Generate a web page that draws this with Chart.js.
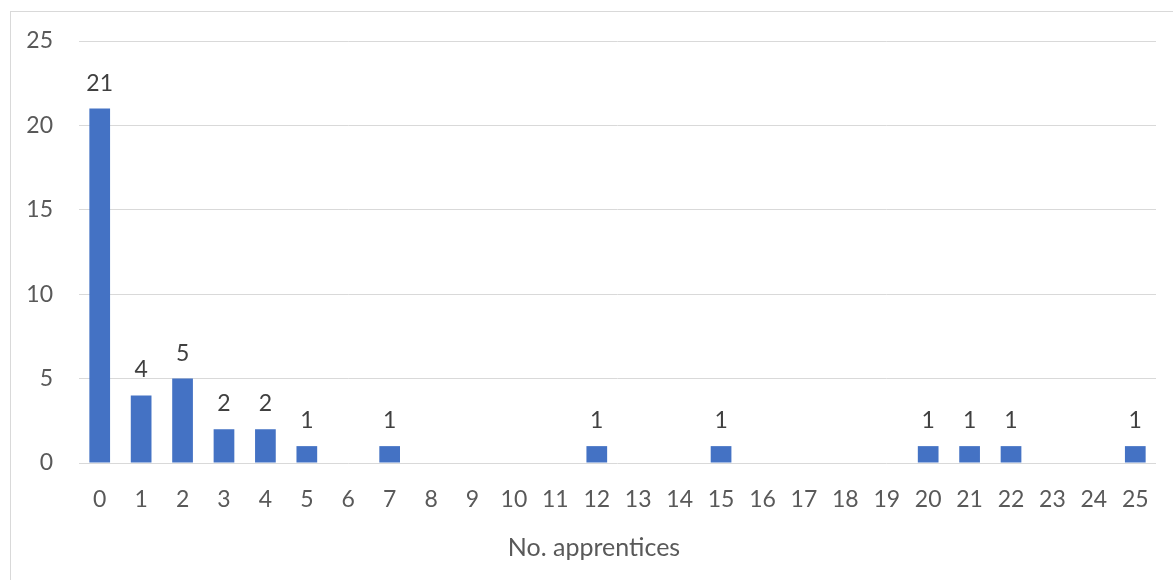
<!DOCTYPE html>
<html>
<head>
<meta charset="utf-8">
<script src="https://cdn.jsdelivr.net/npm/chart.js@4/dist/chart.umd.min.js"></script>
<style>
  html, body { margin: 0; padding: 0; background: #fff; }
  #wrap { position: relative; width: 1173px; height: 580px; overflow: hidden; }
  #frame {
    position: absolute; left: 10px; top: 11px; width: 1200px; height: 600px;
    border: 1px solid #d9d9d9; pointer-events: none;
  }
  canvas { position: absolute; left: 0; top: 0; }
</style>
</head>
<body>
<div id="wrap">
  <canvas id="chart" width="1173" height="580"></canvas>
  <div id="frame"></div>
</div>
<script>
const categories = ["0", "1", "2", "3", "4", "5", "6", "7", "8", "9", "10", "11", "12",
  "13", "14", "15", "16", "17", "18", "19", "20", "21", "22", "23", "24", "25"];
const counts = [21, 4, 5, 2, 2, 1, 0, 1, 0, 0, 0, 0, 1, 0, 0, 1, 0, 0, 0, 0, 1, 1, 1, 0, 0, 1];
const yTicks = [0, 5, 10, 15, 20, 25];
const xTitle = "No. apprentices";

const FONT = "Lato, 'Open Sans', sans-serif";

// value labels above each non-zero bar
const barLabels = {
  id: "barLabels",
  afterDatasetsDraw(chart) {
    const ctx = chart.ctx;
    const meta = chart.getDatasetMeta(0);
    ctx.save();
    ctx.font = `23px ${FONT}`;
    ctx.fillStyle = "#404040";
    ctx.textAlign = "center";
    ctx.textBaseline = "alphabetic";
    meta.data.forEach((bar, i) => {
      const v = counts[i];
      if (!v) return;
      ctx.fillText(String(v), bar.x, bar.y - 18);
    });
    ctx.restore();
  },
};

// axis title, centred on the whole chart box like the original
const axisTitle = {
  id: "axisTitle",
  afterDraw(chart) {
    const ctx = chart.ctx;
    ctx.save();
    ctx.font = `25px ${FONT}`;
    ctx.fillStyle = "#595959";
    ctx.textAlign = "center";
    ctx.textBaseline = "middle";
    ctx.fillText(xTitle, 594, 548);
    ctx.restore();
  },
};

new Chart(document.getElementById("chart"), {
  type: "bar",
  data: {
    labels: categories,
    datasets: [
      {
        data: counts,
        backgroundColor: "#4472C4",
        borderWidth: 0,
        categoryPercentage: 1,
        barPercentage: 0.5,
      },
    ],
  },
  options: {
    responsive: false,
    animation: false,
    layout: { padding: { left: 0, top: 41, right: 17, bottom: 0 } },
    plugins: { legend: { display: false }, tooltip: { enabled: false } },
    scales: {
      x: {
        grid: { display: false },
        border: { display: false },
        ticks: { color: "#595959", font: { family: FONT, size: 23 }, padding: 15, maxRotation: 0, autoSkip: false },
        afterFit: (scale) => { scale.height = 117; },
      },
      y: {
        min: 0,
        max: 25,
        afterBuildTicks: (scale) => { scale.ticks = yTicks.map((v) => ({ value: v })); },
        grid: { color: "#d9d9d9", lineWidth: 1, drawTicks: false },
        border: { display: false },
        ticks: { color: "#595959", font: { family: FONT, size: 23 }, padding: 26 },
        afterFit: (scale) => { scale.width = 79; },
      },
    },
  },
  plugins: [barLabels, axisTitle],
});
</script>
</body>
</html>
